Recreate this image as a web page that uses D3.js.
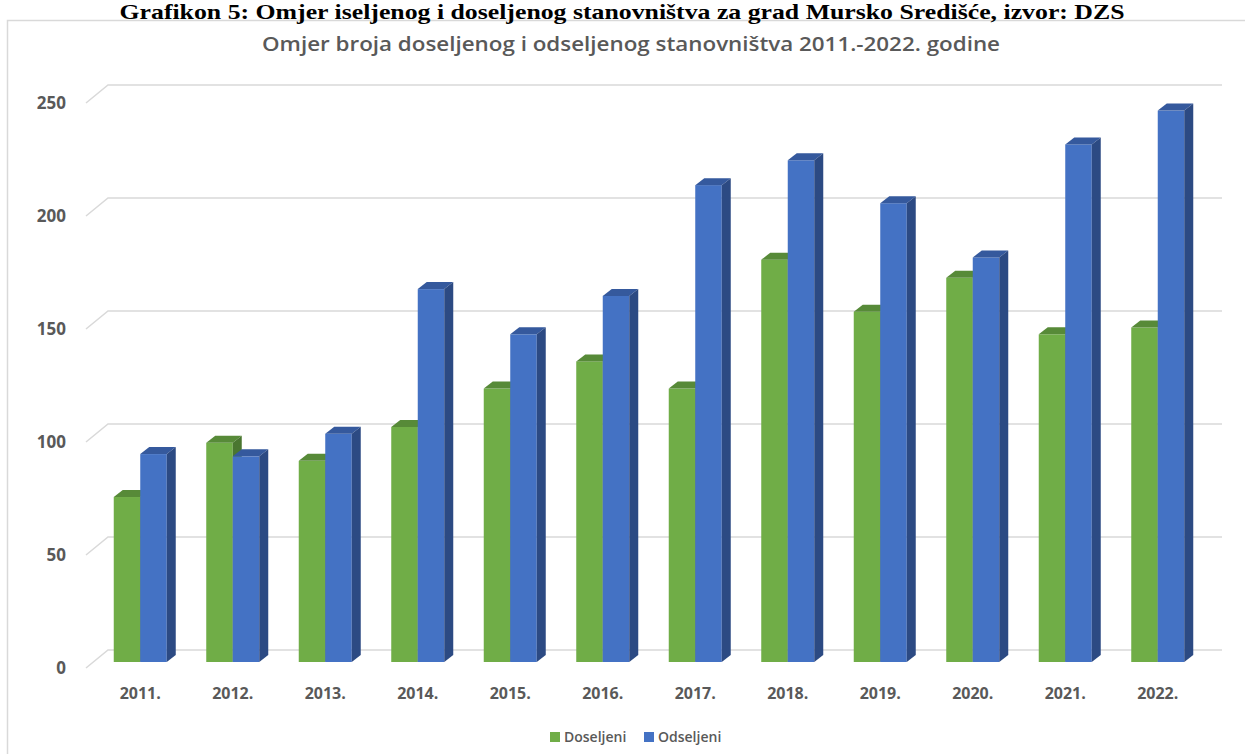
<!DOCTYPE html>
<html>
<head>
<meta charset="utf-8">
<script src="https://cdn.jsdelivr.net/npm/d3@7"></script>
<style>
  body{margin:0;background:#fff;}
  svg{display:block;}
</style>
</head>
<body>
<svg id="chart" width="1245" height="754"></svg>
<script>
// data
var years = ["2011.","2012.","2013.","2014.","2015.","2016.","2017.","2018.","2019.","2020.","2021.","2022."];
var doseljeni = [73, 97, 89, 104, 121, 133, 121, 178, 155, 170, 145, 148];
var odseljeni = [92, 91, 101, 165, 145, 162, 211, 222, 203, 179, 229, 244];
var seriesNames = ["Doseljeni","Odseljeni"];
var yTicks = [0, 50, 100, 150, 200, 250];

var colors = {
	front:["#70ad47","#4472c4"],
	top:["#578a38","#35599d"],
	side:["#4a7630","#2c4a83"]
};

var svg = d3.select("#chart");
var grey = "#595959";

// chart frame
svg.append("rect")
	.attr("x",7.5).attr("y",20.5)
	.attr("width",1240).attr("height",760)
	.attr("fill","#fff")
	.attr("stroke","#d9d9d9")
	.attr("stroke-width",1.5);

// caption above chart (sits on the frame edge in the original)
svg.append("text")
	.attr("x",622).attr("y",19)
	.attr("text-anchor","middle")
	.attr("font-family","Liberation Serif, Times New Roman, serif")
	.attr("font-weight","bold")
	.attr("font-size",21)
	.attr("fill","#000")
	.attr("textLength",1005)
	.attr("lengthAdjust","spacingAndGlyphs")
	.text("Grafikon 5: Omjer iseljenog i doseljenog stanovništva za grad Mursko Središće, izvor: DZS");

svg.append("text")
	.attr("x",631).attr("y",51)
	.attr("text-anchor","middle")
	.attr("font-family","Open Sans, sans-serif")
	.attr("font-weight",600)
	.attr("font-size",20)
	.attr("fill",grey)
	.attr("textLength",738)
	.attr("lengthAdjust","spacingAndGlyphs")
	.text("Omjer broja doseljenog i odseljenog stanovništva 2011.-2022. godine");

// scales: back wall and front face of bars
var yBack = d3.scaleLinear().domain([0,250]).range([650,85]);
var yFront = d3.scaleLinear().domain([0,250]).range([662,97]);
var x0 = d3.scaleBand().domain(years).range([94,1204]);
var x1 = d3.scaleBand().domain(seriesNames)
	.range([x0.bandwidth()*0.2135, x0.bandwidth()*0.7865]);

var depthX = 22, depthY = 18;   // floor depth
var barDx = 9, barDy = 7;       // bar depth

// gridlines on the back wall plus diagonal on the side wall
var grid = svg.append("g").attr("stroke","#d9d9d9").attr("stroke-width",1.5).attr("fill","none");
yTicks.forEach(function(t){
	var yb = yBack(t);
	grid.append("path")
		.attr("d","M"+86+","+(yb+depthY)+"L"+(86+depthX)+","+yb+"H1222");
});

// y tick labels
svg.append("g").selectAll("text").data(yTicks).enter().append("text")
	.attr("x",66)
	.attr("y",function(d){return yBack(d)+depthY;})
	.attr("dy","0.35em")
	.attr("text-anchor","end")
	.attr("font-family","Open Sans, sans-serif")
	.attr("font-weight","bold")
	.attr("font-size",17)
	.attr("fill",grey)
	.text(function(d){return d;});

// bars
var values = [doseljeni, odseljeni];
var bars = svg.append("g");
years.forEach(function(yr,i){
	seriesNames.forEach(function(s,k){
		var v = values[k][i];
		var xa = x0(yr)+x1(s), xb = xa+x1.bandwidth();
		var yt = yFront(v), yb = yFront(0);
		var g = bars.append("g");
		g.append("rect")
			.attr("x",xa).attr("y",yt)
			.attr("width",xb-xa).attr("height",yb-yt)
			.attr("fill",colors.front[k]);
		g.append("path")
			.attr("d","M"+xa+","+yt+"L"+xb+","+yt+"L"+(xb+barDx)+","+(yt-barDy)+"L"+(xa+barDx)+","+(yt-barDy)+"Z")
			.attr("fill",colors.top[k]);
		g.append("path")
			.attr("d","M"+xb+","+yt+"L"+(xb+barDx)+","+(yt-barDy)+"L"+(xb+barDx)+","+(yb-barDy)+"L"+xb+","+yb+"Z")
			.attr("fill",colors.side[k]);
	});
});

// x labels
svg.append("g").selectAll("text").data(years).enter().append("text")
	.attr("x",function(d){return x0(d)+x0.bandwidth()/2;})
	.attr("y",693)
	.attr("dy","0.35em")
	.attr("text-anchor","middle")
	.attr("font-family","Open Sans, sans-serif")
	.attr("font-weight","bold")
	.attr("font-size",16)
	.attr("fill",grey)
	.text(function(d){return d;});

// legend
var legendX = [550, 644];
var legend = svg.append("g");
seriesNames.forEach(function(s,k){
	legend.append("rect")
		.attr("x",legendX[k]).attr("y",732)
		.attr("width",10).attr("height",10)
		.attr("fill",colors.front[k]);
	legend.append("text")
		.attr("x",legendX[k]+14).attr("y",737)
		.attr("dy","0.35em")
		.attr("font-family","Open Sans, sans-serif")
		.attr("font-weight",600)
		.attr("font-size",14)
		.attr("fill",grey)
		.text(s);
});
</script>
</body>
</html>
